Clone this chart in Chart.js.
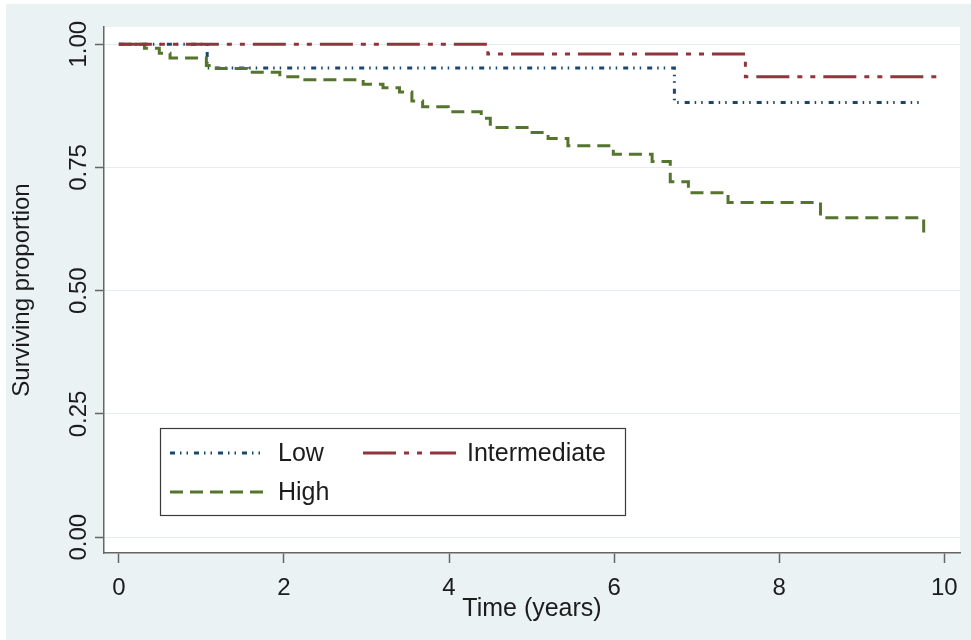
<!DOCTYPE html>
<html lang="en">
<head>
<meta charset="UTF-8">
<title>Surviving proportion by risk group</title>
<script src="https://cdn.jsdelivr.net/npm/chart.js"></script>
<style>
    html, body { margin: 0; padding: 0; background: #ffffff; }
    #wrap { position: relative; width: 971px; height: 640px; }
</style>
</head>
<body>
<div id="wrap"><canvas id="kmChart" width="971" height="640"></canvas></div>
<script>
    // Kaplan-Meier steps: time (years) and surviving proportion
    const groupNames = ['Low', 'Intermediate', 'High'];
    const lowTimes = [0, 1.07, 6.73, 9.73];
    const lowSurv  = [1, 0.952, 0.882, 0.882];
    const intTimes = [0, 4.47, 7.59, 9.97];
    const intSurv  = [1, 0.980, 0.934, 0.934];
    const highTimes = [0, 0.31, 0.49, 0.62, 1.06, 1.18, 1.56, 1.95, 2.19, 2.96, 3.2, 3.4, 3.55, 3.68,
                       3.99, 4.39, 4.5, 4.98, 5.2, 5.44, 5.99, 6.46, 6.68, 6.9, 7.38, 8.5, 9.75];
    const highSurv  = [1, 0.992, 0.982, 0.972, 0.957, 0.951, 0.943, 0.934, 0.928, 0.919, 0.912, 0.903, 0.885, 0.873,
                       0.863, 0.85, 0.831, 0.821, 0.809, 0.794, 0.777, 0.762, 0.721, 0.699, 0.679, 0.648, 0.61];
    const xTicks = [0, 2, 4, 6, 8, 10];
    const yTicks = [0, 0.25, 0.5, 0.75, 1];

    const FONT = '"Liberation Sans", Arial, sans-serif';
    const TEXT = '#1c1c1c';
    const AXIS = '#666666';

    function punti(tempi, surv) {
        return tempi.map((t, i) => ({ x: t, y: surv[i] }));
    }

    // sfondo stile Stata: cornice azzurrina, area del grafico bianca
    const sfondo = {
        id: 'sfondo',
        beforeDraw(chart) {
            const ctx = chart.ctx, a = chart.chartArea;
            ctx.save();
            ctx.fillStyle = '#ffffff';
            ctx.fillRect(0, 0, chart.width, chart.height);
            ctx.fillStyle = '#eaf2f3';
            ctx.fillRect(6, 4, chart.width - 6, chart.height - 4);
            ctx.fillStyle = '#ffffff';
            ctx.fillRect(a.left, a.top, a.right - a.left, a.bottom - a.top);
            ctx.restore();
        }
    };

    // etichette asse y ruotate di 90 gradi
    const etichetteY = {
        id: 'etichetteY',
        afterDraw(chart) {
            const ctx = chart.ctx, sy = chart.scales.y;
            ctx.save();
            ctx.font = '24px ' + FONT;
            ctx.fillStyle = TEXT;
            ctx.textAlign = 'center';
            ctx.textBaseline = 'middle';
            yTicks.forEach(v => {
                ctx.save();
                ctx.translate(79, sy.getPixelForValue(v));
                ctx.rotate(-Math.PI / 2);
                ctx.fillText(v.toFixed(2), 0, 0);
                ctx.restore();
            });
            ctx.restore();
        }
    };

    // legenda dentro l'area del grafico
    const legenda = {
        id: 'legenda',
        afterDraw(chart) {
            const ctx = chart.ctx;
            const voci = [
                { ds: 0, x1: 170, x2: 264, tx: 278, y: 453 },
                { ds: 1, x1: 363, x2: 456, tx: 467, y: 453 },
                { ds: 2, x1: 170, x2: 264, tx: 278, y: 492 }
            ];
            ctx.save();
            ctx.fillStyle = '#ffffff';
            ctx.fillRect(160.5, 428.5, 465, 87);
            ctx.strokeStyle = '#3a3a3a';
            ctx.lineWidth = 1.2;
            ctx.strokeRect(160.5, 428.5, 465, 87);
            voci.forEach(v => {
                const ds = chart.data.datasets[v.ds];
                ctx.beginPath();
                ctx.setLineDash(ds.borderDash);
                ctx.strokeStyle = ds.borderColor;
                ctx.lineWidth = ds.borderWidth;
                ctx.moveTo(v.x1, v.y);
                ctx.lineTo(v.x2, v.y);
                ctx.stroke();
                ctx.setLineDash([]);
                ctx.font = '25px ' + FONT;
                ctx.fillStyle = TEXT;
                ctx.textAlign = 'left';
                ctx.textBaseline = 'middle';
                ctx.fillText(ds.label, v.tx, v.y + 1);
            });
            ctx.restore();
        }
    };

    new Chart(document.getElementById('kmChart'), {
        type: 'line',
        data: {
            datasets: [
                {
                    label: groupNames[0],
                    data: punti(lowTimes, lowSurv),
                    borderColor: '#1a476f',
                    borderWidth: 3,
                    borderDash: [5, 5, 1.5, 5, 1.5, 6],
                    stepped: 'before',
                    pointRadius: 0,
                    fill: false,
                    order: 2
                },
                {
                    label: groupNames[1],
                    data: punti(intTimes, intSurv),
                    borderColor: '#90353b',
                    borderWidth: 3,
                    borderDash: [33, 8, 5, 8, 5, 8],
                    stepped: 'before',
                    pointRadius: 0,
                    fill: false,
                    order: 0
                },
                {
                    label: groupNames[2],
                    data: punti(highTimes, highSurv),
                    borderColor: '#55752f',
                    borderWidth: 3,
                    borderDash: [13, 7],
                    stepped: 'before',
                    pointRadius: 0,
                    fill: false,
                    order: 1
                }
            ]
        },
        options: {
            responsive: false,
            animation: false,
            devicePixelRatio: 1,
            layout: { padding: { top: 27, right: 11, left: 0, bottom: 0 } },
            scales: {
                x: {
                    type: 'linear',
                    min: -0.18,
                    max: 10.19,
                    afterBuildTicks: s => { s.ticks = xTicks.map(v => ({ value: v })); },
                    afterFit: s => { s.height = 87; },
                    ticks: {
                        font: { size: 24, family: FONT },
                        color: TEXT,
                        padding: 11,
                        maxRotation: 0,
                        callback: v => String(v)
                    },
                    grid: { drawOnChartArea: false, drawTicks: true, tickLength: 10, tickColor: AXIS, tickWidth: 1.5 },
                    border: { display: true, color: AXIS, width: 1.5 },
                    title: {
                        display: true,
                        text: 'Time (years)',
                        font: { size: 25, family: FONT },
                        color: TEXT,
                        padding: { top: 0, bottom: 16 }
                    }
                },
                y: {
                    type: 'linear',
                    min: -0.032,
                    max: 1.035,
                    afterBuildTicks: s => { s.ticks = yTicks.map(v => ({ value: v })); },
                    afterFit: s => { s.width = 104; },
                    ticks: { display: false },
                    grid: { color: '#e3ecee', lineWidth: 1, drawTicks: true, tickLength: 9, tickColor: AXIS, tickWidth: 1.5 },
                    border: { display: true, color: AXIS, width: 1.5 },
                    title: {
                        display: true,
                        text: 'Surviving proportion',
                        font: { size: 24, family: FONT },
                        color: TEXT,
                        padding: { top: 8, bottom: 0 }
                    }
                }
            },
            plugins: {
                legend: { display: false },
                tooltip: { enabled: false }
            }
        },
        plugins: [sfondo, etichetteY, legenda]
    });
</script>
</body>
</html>
